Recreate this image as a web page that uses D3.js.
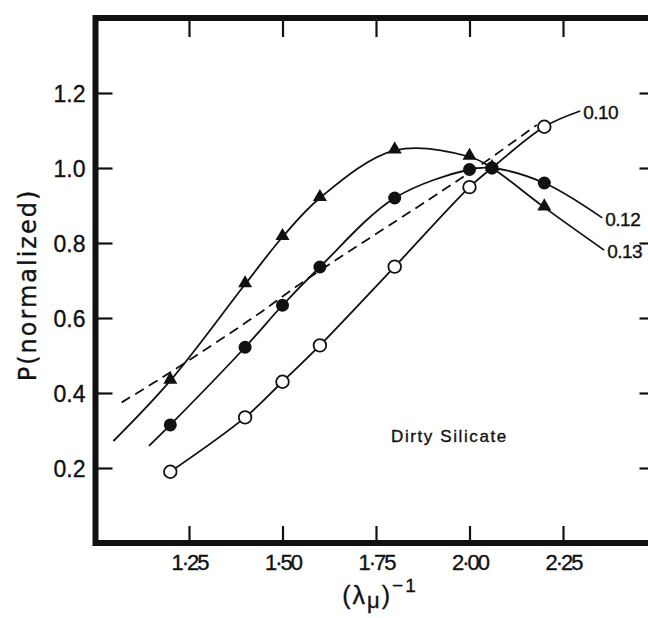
<!DOCTYPE html>
<html>
<head>
<meta charset="utf-8">
<script src="https://cdn.jsdelivr.net/npm/d3@7"></script>
<style>
	body { margin: 0; background: #fff; }
	text { font-family: "Liberation Sans", Arial, sans-serif; fill: #111; stroke: #111; stroke-width: 0.35px; }
</style>
</head>
<body>
<div id="chart"></div>
<script>
//Tick values and labels
let xTicks = [1.25, 1.50, 1.75, 2.00, 2.25];
let xTickLabels = ["1·25", "1·50", "1·75", "2·00", "2·25"];
let yTicks = [0.2, 0.4, 0.6, 0.8, 1.0, 1.2];
let yTickLabels = ["0.2", "0.4", "0.6", "0.8", "1.0", "1.2"];

//Measured points, 1/lambda in microns^-1
let xData = [1.2, 1.4, 1.5, 1.6, 1.8, 2.0, 2.06, 2.2];
let yOpen = [0.19, 0.335, 0.43, 0.527, 0.737, 0.949, 1.0, 1.11];
let yFilled = [0.315, 0.522, 0.634, 0.736, 0.92, 0.996, 1.0, 0.96];
let yTriangle = [0.433, 0.69, 0.816, 0.92, 1.047, 1.03, 1.0, 0.895];

//Fitted curves run a little past the points
let curveNames = ["0.10", "0.12", "0.13"];
let curveStartX = [null, 1.143, 1.048];
let curveStartY = [null, 0.259, 0.272];
let curveEndX = [2.296, 2.355, 2.36];
let curveEndY = [1.152, 0.867, 0.781];

//Dashed curve
let dashX = [1.07, 1.2, 1.43, 1.55, 1.89, 2.04, 2.18];
let dashY = [0.375, 0.455, 0.607, 0.693, 0.915, 1.015, 1.115];

//Dimensions
let width = 648;
let height = 618;

let x = d3.scaleLinear().domain([1.0, 2.5]).range([95.5, 656.5]);
let y = d3.scaleLinear().domain([0, 1.4]).range([543, 18]);

//SVG container
let svg = d3.select("#chart").append("svg")
	.attr("width", width)
	.attr("height", height);

//Ticks on all four sides, pointing inward
let styleAxis = function(g){
	g.select(".domain").remove();
	g.selectAll(".tick line").attr("stroke", "#111").attr("stroke-width", 2.2);
	g.selectAll(".tick text").attr("fill", "#111").style("font-family", "Liberation Sans, Arial, sans-serif");
}

svg.append("g")
	.attr("transform", "translate(0," + y(0) + ")")
	.call(d3.axisBottom(x).tickValues(xTicks).tickSize(-17).tickPadding(11)
		.tickFormat(function(d, i){ return xTickLabels[i]; }))
	.call(styleAxis)
	.selectAll(".tick text")
		.style("font-size", "22px")
		.style("letter-spacing", "-2px");

svg.append("g")
	.attr("transform", "translate(0," + y(1.4) + ")")
	.call(d3.axisTop(x).tickValues(xTicks).tickSize(-19).tickFormat(""))
	.call(styleAxis);

svg.append("g")
	.attr("transform", "translate(" + x(1.0) + ",0)")
	.call(d3.axisLeft(y).tickValues(yTicks).tickSize(-17).tickPadding(10)
		.tickFormat(function(d, i){ return yTickLabels[i]; }))
	.call(styleAxis)
	.selectAll(".tick text")
		.style("font-size", "23px")
		.attr("dy", "0.36em");

svg.append("g")
	.attr("transform", "translate(" + x(2.5) + ",0)")
	.call(d3.axisRight(y).tickValues(yTicks).tickSize(-17).tickFormat(""))
	.call(styleAxis);

//Frame
svg.append("rect")
	.attr("x", x(1.0))
	.attr("y", y(1.4))
	.attr("width", x(2.5) - x(1.0))
	.attr("height", y(0) - y(1.4))
	.attr("fill", "none")
	.attr("stroke", "#111")
	.attr("stroke-width", 6);

//Curves
let line = d3.line()
	.x(function(d){ return x(d[0]); })
	.y(function(d){ return y(d[1]); })
	.curve(d3.curveCatmullRom.alpha(0.5));

let seriesY = [yOpen, yFilled, yTriangle];
seriesY.forEach(function(ys, s){
	let pts = xData.map(function(v, i){ return [v, ys[i]]; });
	if(curveStartX[s] != null){
		pts.unshift([curveStartX[s], curveStartY[s]]);
	}
	pts.push([curveEndX[s], curveEndY[s]]);

	svg.append("path")
		.attr("d", line(pts))
		.attr("fill", "none")
		.attr("stroke", "#111")
		.attr("stroke-width", 1.8);
});

svg.append("path")
	.attr("d", line(dashX.map(function(v, i){ return [v, dashY[i]]; })))
	.attr("fill", "none")
	.attr("stroke", "#111")
	.attr("stroke-width", 1.8)
	.attr("stroke-dasharray", "10,6");

//Markers
svg.selectAll(".tri")
		.data(xData)
	.enter()
		.append("path")
			.attr("class", "tri")
			.attr("d", d3.symbol().type(d3.symbolTriangle).size(85))
			.attr("transform", function(d, i){
				return "translate(" + x(d) + "," + (y(yTriangle[i]) - 1) + ")";
			})
			.attr("fill", "#111");

svg.selectAll(".filled")
		.data(xData)
	.enter()
		.append("circle")
			.attr("class", "filled")
			.attr("cx", function(d){ return x(d); })
			.attr("cy", function(d, i){ return y(yFilled[i]); })
			.attr("r", 6.5)
			.attr("fill", "#111");

svg.selectAll(".open")
		.data(xData)
	.enter()
		.append("circle")
			.attr("class", "open")
			.attr("cx", function(d){ return x(d); })
			.attr("cy", function(d, i){ return y(yOpen[i]); })
			.attr("r", function(d){ return d == 2.06 ? 5.5 : 6.3; })
			.attr("fill", function(d){ return d == 2.06 ? "#111" : "#fff"; })
			.attr("stroke", "#111")
			.attr("stroke-width", 1.8);

//Curve labels
svg.selectAll(".curveLabel")
		.data(curveNames)
	.enter()
		.append("text")
			.attr("class", "curveLabel")
			.attr("x", function(d, i){ return x(curveEndX[i]) + 3; })
			.attr("y", function(d, i){ return y(curveEndY[i]) + 8; })
			.style("font-size", "19px")
			.style("letter-spacing", "-0.5px")
			.text(function(d){ return d; });

//Annotation
svg.append("text")
	.attr("x", 391)
	.attr("y", 442)
	.style("font-size", "17px")
	.style("letter-spacing", "1.6px")
	.text("Dirty Silicate");

//Axis titles
svg.append("text")
	.attr("transform", "translate(36,285) rotate(-90)")
	.attr("text-anchor", "middle")
	.style("font-family", "DejaVu Sans, sans-serif")
	.style("font-size", "24px")
	.style("letter-spacing", "2px")
	.text("P(normalized)");

let xTitle = svg.append("text")
	.attr("x", 380)
	.attr("y", 604)
	.attr("text-anchor", "middle")
	.style("font-size", "25px")
	.style("letter-spacing", "2px");
xTitle.append("tspan").text("(λ");
xTitle.append("tspan").attr("dy", 4).style("font-size", "22px").text("μ");
xTitle.append("tspan").attr("dy", -4).text(")");
xTitle.append("tspan").attr("dy", -12).style("font-size", "19px").text("−1");
</script>
</body>
</html>
